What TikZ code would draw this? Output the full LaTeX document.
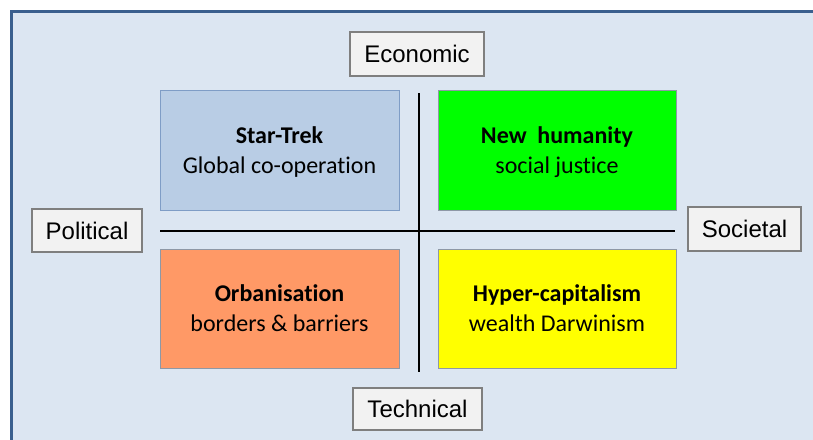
\documentclass[tikz,border=0pt]{standalone}
\usepackage{fontspec}
\setmainfont[Ligatures={NoCommon}]{Carlito}
\newfontfamily\axisfont{Liberation Sans}
\definecolor{panelbg}{HTML}{DCE6F2}
\definecolor{panelframe}{HTML}{3A5F8E}
\definecolor{skyfill}{HTML}{B9CDE5}
\definecolor{skyedge}{HTML}{7F9DC6}
\definecolor{orangefill}{HTML}{FF9966}
\definecolor{greenfill}{HTML}{00FF00}
\definecolor{yellowfill}{HTML}{FFFF00}
\definecolor{quadedge}{HTML}{8E98A6}
\definecolor{tagfill}{HTML}{F2F2F2}
\definecolor{tagedge}{HTML}{7F7F7F}
\tikzset{
  quad/.style={draw=quadedge, line width=1pt, rectangle, inner sep=0pt, outer sep=0pt,
    minimum width=238pt, minimum height=120pt},
  tag/.style={draw=tagedge, fill=tagfill, line width=1.2pt, rectangle, inner sep=0pt,
    font=\axisfont\fontsize{24}{24}\selectfont, text height=17pt, text depth=0pt},
  headline/.style={anchor=base, inner sep=0pt, font=\bfseries\fontsize{24}{24}\selectfont},
  subline/.style={anchor=base, inner sep=0pt, font=\fontsize{24}{24}\selectfont},
  axis/.style={line width=2pt, black}
}
\begin{document}
\begin{tikzpicture}[x=1pt, y=-1pt]
  \useasboundingbox (0,0) rectangle (813,439);
  \clip (0,0) rectangle (813,439);
  % page and panel
  \fill[white] (0,0) rectangle (813,439);
  \draw[panelframe, fill=panelbg, line width=3pt] (11.5,11.5) rectangle (840,470);

  % quadrant boxes
  \node[quad, fill=skyfill, draw=skyedge, minimum width=239pt] (st) at (279.5,150) {};
  \node[quad, fill=greenfill] (nh) at (557,150) {};
  \node[quad, fill=orangefill, minimum width=239pt, minimum height=119pt] (ob) at (279.5,308.5) {};
  \node[quad, fill=yellowfill, minimum height=119pt] (hc) at (557,308.5) {};

  % axes
  \coordinate (vtop) at (418.5,93);
  \coordinate (vbot) at (418.5,372);
  \coordinate (hleft) at (160,231);
  \coordinate (hright) at (675,231);
  \draw[axis] (vtop) -- (vbot);
  \draw[axis] (hleft) -- (hright);

  % quadrant texts
  \node[headline] (stA) at ([yshift=7pt]st.center) {Star-Trek};
  \node[subline]  (stB) at ([yshift=-23pt]st.center) {Global co-operation};
  \node[headline] (nhA) at ([yshift=7pt]nh.center) {New\ \ humanity};
  \node[subline]  (nhB) at ([yshift=-23pt]nh.center) {social justice};
  \node[headline] (obA) at ([yshift=7pt]ob.center) {Orbanisation};
  \node[subline]  (obB) at ([yshift=-23pt]ob.center) {borders \& barriers};
  \node[headline] (hcA) at ([yshift=7pt]hc.center) {Hyper-capitalism};
  \node[subline]  (hcB) at ([yshift=-23pt]hc.center) {wealth Darwinism};

  % axis labels
  \node[tag, minimum width=134pt, minimum height=44pt] (eco) at (417,54) {Economic};
  \node[tag, minimum width=110pt, minimum height=43pt] (pol) at (87,230.5) {Political};
  \node[tag, minimum width=113pt, minimum height=44pt] (soc) at (744.5,229) {Societal};
  \node[tag, minimum width=129pt, minimum height=42pt] (tec) at (417.5,409) {Technical};
\end{tikzpicture}
\end{document}
